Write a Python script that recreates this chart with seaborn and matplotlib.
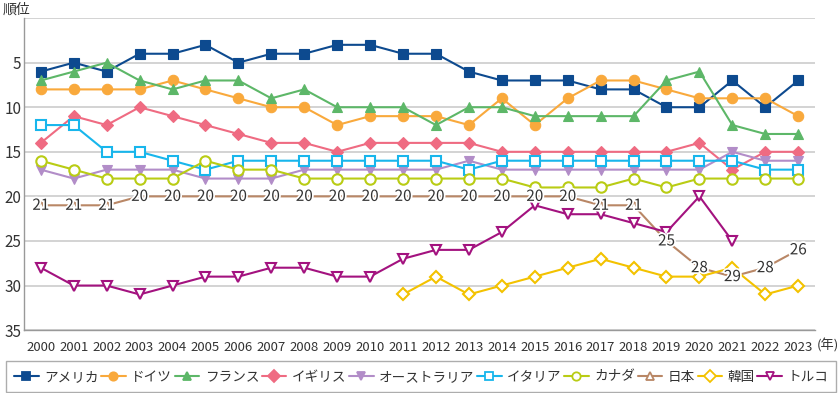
import numpy as np
import pandas as pd
import matplotlib
matplotlib.use("Agg")
import matplotlib.pyplot as plt
import matplotlib.patheffects as pe
from matplotlib.lines import Line2D
import seaborn as sns

# ---- data (rank by year) ----
years = list(range(2000, 2024))
nan = np.nan

usa = [6, 5, 6, 4, 4, 3, 5, 4, 4, 3, 3, 4, 4, 6, 7, 7, 7, 8, 8, 10, 10, 7, 10, 7]
germany = [8, 8, 8, 8, 7, 8, 9, 10, 10, 12, 11, 11, 11, 12, 9, 12, 9, 7, 7, 8, 9, 9, 9, 11]
france = [7, 6, 5, 7, 8, 7, 7, 9, 8, 10, 10, 10, 12, 10, 10, 11, 11, 11, 11, 7, 6, 12, 13, 13]
uk = [14, 11, 12, 10, 11, 12, 13, 14, 14, 15, 14, 14, 14, 14, 15, 15, 15, 15, 15, 15, 14, 17, 15, 15]
australia = [17, 18, 17, 17, 17, 18, 18, 18, 17, 17, 17, 17, 17, 16, 17, 17, 17, 17, 17, 17, 17, 15, 16, 16]
italy = [12, 12, 15, 15, 16, 17, 16, 16, 16, 16, 16, 16, 16, 17, 16, 16, 16, 16, 16, 16, 16, 16, 17, 17]
canada = [16, 17, 18, 18, 18, 16, 17, 17, 18, 18, 18, 18, 18, 18, 18, 19, 19, 19, 18, 19, 18, 18, 18, 18]
japan = [21, 21, 21, 20, 20, 20, 20, 20, 20, 20, 20, 20, 20, 20, 20, 20, 20, 21, 21, 25, 28, 29, 28, 26]
korea = [nan] * 11 + [31, 29, 31, 30, 29, 28, 27, 28, 29, 29, 28, 31, 30]
turkey = [28, 30, 30, 31, 30, 29, 29, 28, 28, 29, 29, 27, 26, 26, 24, 21, 22, 22, 23, 24, 20, 25, nan, nan]

names = ["アメリカ", "ドイツ", "フランス", "イギリス", "オーストラリア",
         "イタリア", "カナダ", "日本", "韓国", "トルコ"]
values = [usa, germany, france, uk, australia, italy, canada, japan, korea, turkey]
colors = ["#0d4a8f", "#f9a93c", "#5db768", "#ef6b82", "#b28dc8",
          "#18b6ec", "#b9cc14", "#b98766", "#f3c200", "#a3127f"]
markers = ["s", "o", "^", "D", "v", "s", "o", "^", "D", "v"]
filled = [True, True, True, True, True, False, False, False, False, False]

rows = []
for name, vals in zip(names, values):
    for i, (yr, v) in enumerate(zip(years, vals)):
        rows.append({"country": name, "idx": i, "year": yr, "rank": v})
df = pd.DataFrame(rows).dropna()

sns.set_style("white")
plt.rcParams["font.family"] = ["Noto Sans CJK JP", "DejaVu Sans"]

fig = plt.figure(figsize=(8.39, 3.93), dpi=100)
ax = fig.add_axes([0.029, 0.160, 0.942, 0.794])

for k, name in enumerate(names):
    sub = df[df["country"] == name]
    c = colors[k]
    ms = 6.5 if markers[k] in ("s", "D") else 7.5
    if name == "日本":
        ms = 5.5
    sns.lineplot(data=sub, x="idx", y="rank", ax=ax, color=c, linewidth=1.5,
                 marker=markers[k], markersize=ms,
                 markerfacecolor=c if filled[k] else "white",
                 markeredgecolor=c, markeredgewidth=1.5 if not filled[k] else 0.8,
                 zorder=3 + k * 0.1, legend=False)

# Japan labels
jp = df[df["country"] == "日本"]
for _, r in jp.iterrows():
    ax.text(r["idx"], r["rank"], f"{int(r['rank'])}", ha="center", va="center",
            fontsize=11, color="#333333", zorder=10,
            path_effects=[pe.withStroke(linewidth=2.5, foreground="white")])

ax.set_xlim(-0.5, 23.5)
ax.set_ylim(35, 0)
ax.set_yticks([0, 5, 10, 15, 20, 25, 30, 35])
ax.set_yticklabels(["", "5", "10", "15", "20", "25", "30", "35"], fontsize=11, color="#333333")
ax.set_xticks(range(24))
ax.set_xticklabels([str(y) for y in years], fontsize=9.5, color="#333333")
ax.set_xticks(np.arange(-0.5, 24, 1), minor=True)
ax.tick_params(axis="x", which="major", length=0, pad=8)
ax.tick_params(axis="x", which="minor", length=5, color="#999999", direction="out")
ax.tick_params(axis="y", length=0, pad=2)
ax.set_xlabel("")
ax.set_ylabel("")

ax.grid(axis="y", color="#cccccc", linewidth=1.2)
ax.set_axisbelow(True)
for s in ["top", "right"]:
    ax.spines[s].set_visible(False)
for s in ["left", "bottom"]:
    ax.spines[s].set_color("#999999")
    ax.spines[s].set_linewidth(1.0)

fig.text(0.003, 0.975, "順位", fontsize=10, color="#333333", ha="left", va="center")
ax.text(23.55, -0.05, "(年)", transform=ax.get_xaxis_transform(),
        fontsize=9.5, color="#333333", ha="left", va="center")

handles = []
for k, name in enumerate(names):
    c = colors[k]
    handles.append(Line2D([0], [0], color=c, linewidth=1.5, marker=markers[k],
                          markersize=6, markerfacecolor=c if filled[k] else "white",
                          markeredgecolor=c, markeredgewidth=1.3, label=name))
leg = fig.legend(handles=handles, loc="lower left",
                 bbox_to_anchor=(0.007, 0.003, 0.990, 0.07), mode="expand",
                 ncol=10, fontsize=9.8, frameon=True, fancybox=False,
                 handlelength=1.8, handletextpad=0.4, columnspacing=0.5,
                 borderpad=0.6, borderaxespad=0.0, edgecolor="#999999")
leg.get_frame().set_linewidth(1.0)
for t in leg.get_texts():
    t.set_color("#333333")

fig.savefig("out.png", dpi=100)
